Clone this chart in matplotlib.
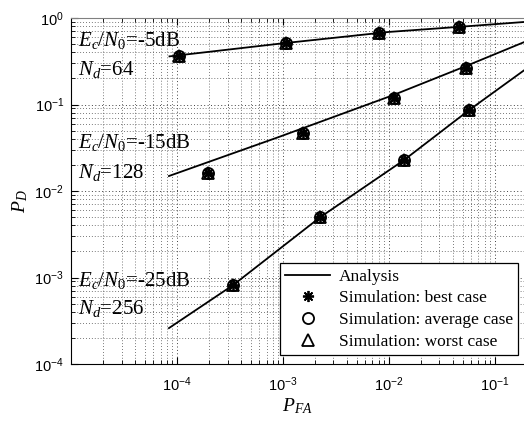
import numpy as np
import matplotlib
matplotlib.use("Agg")
import matplotlib.pyplot as plt
from matplotlib.ticker import LogLocator, NullFormatter, FixedLocator

plt.rcParams['font.family'] = ['Liberation Sans', 'DejaVu Sans']
plt.rcParams['mathtext.fontset'] = 'custom'
plt.rcParams['mathtext.rm'] = 'Liberation Serif'
plt.rcParams['mathtext.it'] = 'Liberation Serif:italic'
plt.rcParams['mathtext.bf'] = 'Liberation Serif:bold'

# ---- data ----
# Analysis curves
pfa_a1 = [8.5e-5, 1.0e-3, 1.0e-2, 4.6e-2, 0.19]
pd_a1 = [0.36, 0.51, 0.69, 0.79, 0.90]

pfa_a2 = [8.4e-5, 9.1e-4, 1.11e-2, 5.37e-2, 0.19]
pd_a2 = [0.0149, 0.042, 0.129, 0.279, 0.528]

pfa_a3 = [8.4e-5, 3.4e-4, 2.26e-3, 1.39e-2, 5.73e-2, 0.19]
pd_a3 = [2.6e-4, 8.2e-4, 5.0e-3, 0.0228, 0.0864, 0.25]

# Simulation points (best / average / worst)
pfa_s1 = [1.04e-4, 1.06e-3, 8.0e-3, 4.6e-2]
pd_s1 = [0.364, 0.514, 0.671, 0.787]
pfa_s2 = [1.97e-4, 1.56e-3, 1.11e-2, 5.37e-2]
pd_s2 = [0.0161, 0.0469, 0.119, 0.264]
pfa_s3 = [3.4e-4, 2.26e-3, 1.39e-2, 5.73e-2]
pd_s3 = [8.2e-4, 5.0e-3, 0.0228, 0.0864]

x_ticks = [1e-4, 1e-3, 1e-2, 1e-1]
y_ticks = [1e-4, 1e-3, 1e-2, 1e-1, 1e0]

labels_sim = ['Simulation: best case', 'Simulation: average case', 'Simulation: worst case']
markers_sim = [(8, 2, 0), 'o', '^']

annot = [(r'$E_c/N_0$=-5dB', r'$N_d$=64'),
         (r'$E_c/N_0$=-15dB', r'$N_d$=128'),
         (r'$E_c/N_0$=-25dB', r'$N_d$=256')]

# ---- figure ----
fig = plt.figure(figsize=(5.24, 4.22), dpi=100)
ax = fig.add_axes([71/524, 58/422, 453/524, 346/422])

ax.plot(pfa_a1, pd_a1, 'k-', lw=1.3, label='Analysis')
ax.plot(pfa_a2, pd_a2, 'k-', lw=1.3)
ax.plot(pfa_a3, pd_a3, 'k-', lw=1.3)

sims = [(pfa_s1, pd_s1), (pfa_s2, pd_s2), (pfa_s3, pd_s3)]
for m, lab in zip(markers_sim, labels_sim):
    first = True
    for px, py in sims:
        ax.plot(px, py, linestyle='none', marker=m, color='k',
                markerfacecolor='none',
                markersize=8, mew=1.3,
                label=lab if first else None)
        first = False

ax.set_xscale('log')
ax.set_yscale('log')
ax.set_xlim(1e-5, 10**-0.725)
ax.set_ylim(1e-4, 1)

ax.xaxis.set_major_locator(FixedLocator(x_ticks))
ax.yaxis.set_major_locator(FixedLocator(y_ticks))
ax.xaxis.set_minor_locator(LogLocator(base=10, subs=np.arange(2, 10), numticks=20))
ax.yaxis.set_minor_locator(LogLocator(base=10, subs=np.arange(2, 10), numticks=20))
ax.xaxis.set_minor_formatter(NullFormatter())
ax.yaxis.set_minor_formatter(NullFormatter())

ax.grid(True, which='major', linestyle=(0, (1, 2.5)), color='0.25', lw=0.7)
ax.grid(True, which='minor', linestyle=(0, (1, 2.5)), color='0.3', lw=0.6)
ax.tick_params(which='both', direction='in', top=True, right=False, labelsize=10.5)
ax.tick_params(axis='x', which='major', pad=8)
ax.tick_params(axis='y', which='major', pad=5)
ax.tick_params(which='major', length=5)
ax.tick_params(which='minor', length=3)
ax.spines['right'].set_visible(False)
ax.spines['top'].set_color('0.5')

ax.set_xlabel(r'$P_{FA}$', fontsize=14, labelpad=2)
ax.set_ylabel(r'$P_D$', fontsize=14, labelpad=2)
ax.yaxis.set_label_coords(-0.09, 0.47)

# annotations (axes fraction)
ypos = [(0.919, 0.835), (0.625, 0.538), (0.225, 0.145)]
for (l1, l2), (y1, y2) in zip(annot, ypos):
    ax.text(0.015, y1, l1, transform=ax.transAxes, fontsize=15,
            family='Liberation Serif', va='baseline', ha='left')
    ax.text(0.015, y2, l2, transform=ax.transAxes, fontsize=15,
            family='Liberation Serif', va='baseline', ha='left')

leg = ax.legend(loc='lower right', bbox_to_anchor=(0.987, 0.026), borderaxespad=0,
                fancybox=False, edgecolor='k', framealpha=1,
                prop={'family': 'Liberation Serif', 'size': 12.5},
                handlelength=2.6, labelspacing=0.32, borderpad=0.3, handletextpad=0.5)
leg.get_frame().set_linewidth(0.9)

fig.savefig('out.png', dpi=100)
